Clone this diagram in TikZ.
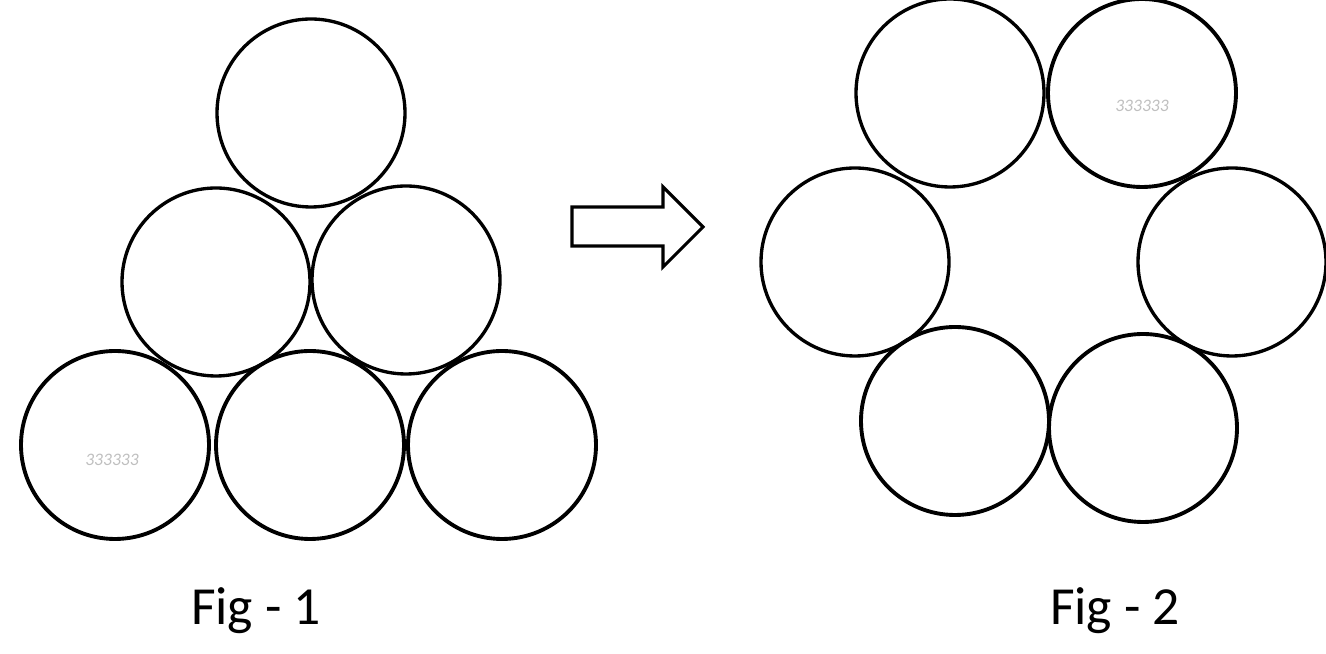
\documentclass[tikz,border=0pt]{standalone}
\usepackage{fontspec}
\setmainfont{Carlito}
\usepackage{tikz}
\usetikzlibrary{positioning}

\tikzset{
  ball/.style={draw, circle, line width=1.9pt, minimum size=3.76cm, inner sep=0pt},
  scrib/.style={font=\fontsize{10}{10}\selectfont\itshape, text=black!25},
  figlabel/.style={anchor=base, font=\fontsize{30.5}{30}\selectfont}
}

\begin{document}
\begin{tikzpicture}
  \useasboundingbox (0,0) rectangle (26.52,13.08);
  % Fig 1
  \node[ball] (top) at (6.22,10.82) {};
  \node[ball] (midL) at (4.32,7.44) {};
  \node[ball] (midR) at (8.12,7.48) {};
  \node[ball, line width=2.2pt] (botL) at (2.30,4.18) {};
  \node[ball, line width=2.2pt] (botM) at (6.20,4.18) {};
  \node[ball, line width=2.2pt] (botR) at (10.04,4.18) {};
  \node[scrib] (noteA) at (2.24,3.88) {333333};
  \node[figlabel] (figA) at (5.12,0.58) {Fig - 1};
  % arrow
  \draw[line width=1.8pt, line join=miter]
    (11.44,8.94) -- (13.26,8.94) -- (13.26,9.34) -- (14.06,8.54)
    -- (13.26,7.74) -- (13.26,8.16) -- (11.44,8.16) -- cycle;
  % Fig 2
  \node[ball] (ringTL) at (19.00,11.22) {};
  \node[ball, line width=2.2pt] (ringTR) at (22.84,11.22) {};
  \node[ball] (ringL) at (17.10,7.84) {};
  \node[ball] (ringR) at (24.64,7.84) {};
  \node[ball, line width=2.2pt] (ringBL) at (19.10,4.66) {};
  \node[ball, line width=2.2pt] (ringBR) at (22.86,4.52) {};
  \node[scrib] (noteB) at (22.84,10.96) {333333};
  \node[figlabel] (figB) at (22.30,0.58) {Fig - 2};
\end{tikzpicture}
\end{document}
